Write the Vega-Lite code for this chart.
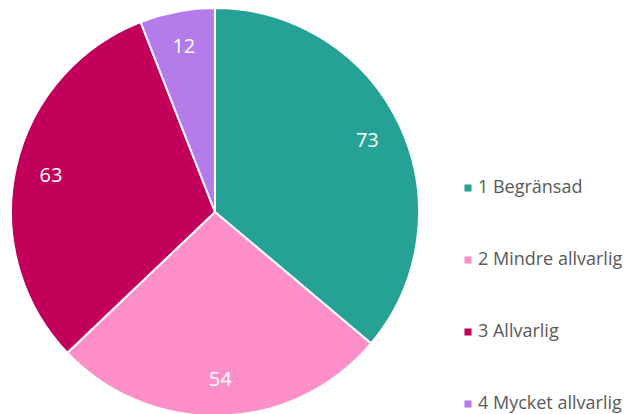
{
  "$schema": "https://vega.github.io/schema/vega-lite/v6.json",
  "width": 410,
  "height": 408,
  "autosize": {"type": "none"},
  "padding": {"left": 10, "top": 8, "right": 211, "bottom": 0},
  "background": "white",
  "data": {"values": [
    {"category": "1 Begränsad", "value": 73, "order": 1},
    {"category": "2 Mindre allvarlig", "value": 54, "order": 2},
    {"category": "3 Allvarlig", "value": 63, "order": 3},
    {"category": "4 Mycket allvarlig", "value": 12, "order": 4}
  ]},
  "config": {"view": {"stroke": null}, "font": "Open Sans"},
  "encoding": {
    "theta": {"field": "value", "type": "quantitative", "stack": true},
    "order": {"field": "order"}
  },
  "layer": [
    {"mark": {"type": "arc", "outerRadius": 204, "stroke": "white", "strokeWidth": 2},
     "encoding": {
      "color": {
        "field": "category", "type": "nominal",
        "scale": {"domain": ["1 Begränsad", "2 Mindre allvarlig", "3 Allvarlig", "4 Mycket allvarlig"],
                  "range": ["#26A195", "#FF8FC8", "#C2005C", "#B57BEB"]},
        "legend": {
          "orient": "none", "legendX": 449, "legendY": 171, "title": null,
          "symbolType": "square", "symbolSize": 50, "symbolStrokeWidth": 0,
          "labelFontSize": 18, "labelColor": "#595959", "labelFont": "Open Sans",
          "rowPadding": 54, "padding": 0, "labelOffset": 1, "labelLimit": 200
        }
      }
     }},
    {"mark": {"type": "text", "radius": 168, "fontSize": 20, "color": "white", "font": "Open Sans"},
     "encoding": {"text": {"field": "value", "type": "quantitative"}}}
  ]
}
